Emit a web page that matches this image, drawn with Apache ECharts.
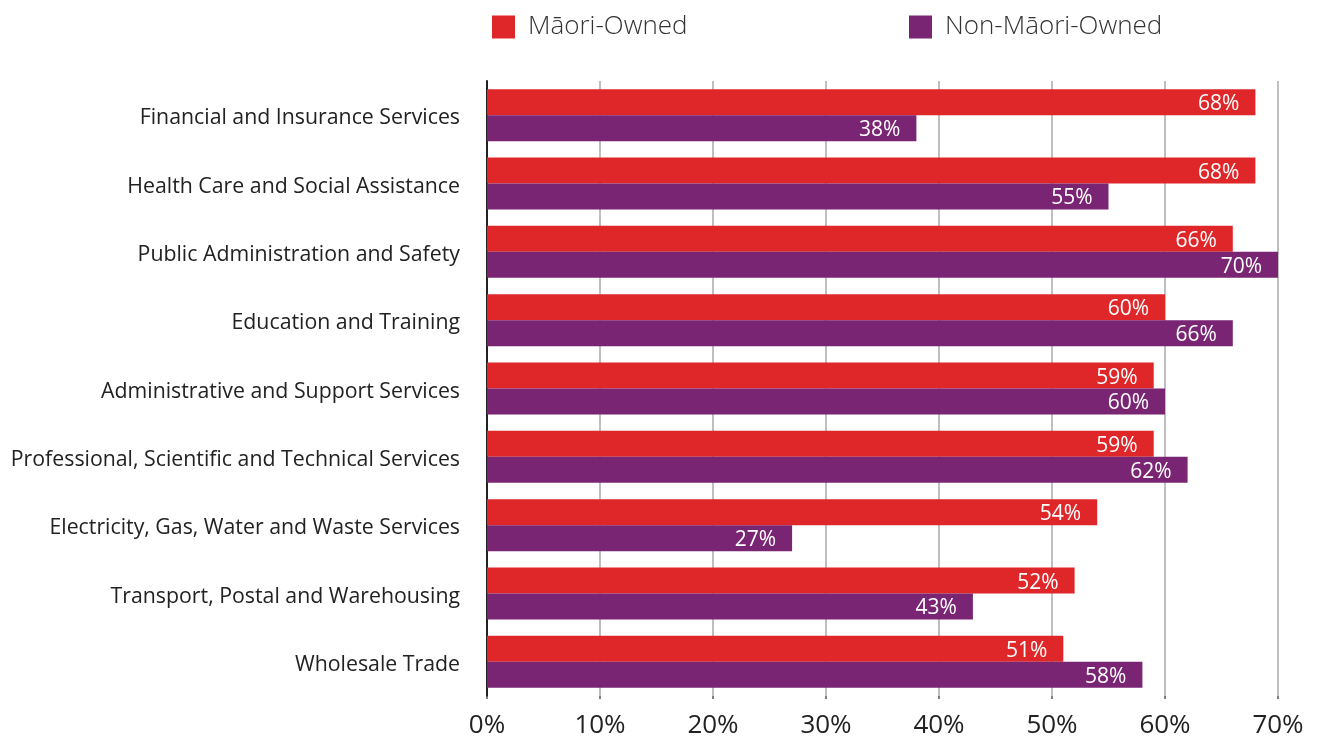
<!DOCTYPE html>
<html>
<head>
    <meta charset="utf-8">
    <title>ECharts</title>
    <script src="https://cdn.jsdelivr.net/npm/echarts@6/dist/echarts.min.js"></script>
</head>
<body style="margin:0">
<div id="main" style="width: 1322px;height:742px;"></div>
<script type="text/javascript">
    // data
    var industries = [
        'Financial and Insurance Services',
        'Health Care and Social Assistance',
        'Public Administration and Safety',
        'Education and Training',
        'Administrative and Support Services',
        'Professional, Scientific and Technical Services',
        'Electricity, Gas, Water and Waste Services',
        'Transport, Postal and Warehousing',
        'Wholesale Trade'
    ];
    var maoriOwned = [68, 68, 66, 60, 59, 59, 54, 52, 51];
    var nonMaoriOwned = [38, 55, 70, 66, 60, 62, 27, 43, 58];
    var seriesNames = ['Māori-Owned', 'Non-Māori-Owned'];

    var myChart = echarts.init(document.getElementById('main'));

    var barLabel = {
        show: true,
        position: 'insideRight',
        distance: 16,
        offset: [0, 2],
        formatter: '{c}%',
        color: '#fff',
        fontSize: 21,
        fontFamily: 'Open Sans'
    };
    var legendText = { fontSize: 26, color: '#333', fontFamily: 'Open Sans', fontWeight: 300, padding: [0, 0, 0, 8] };

    myChart.setOption({
        animation: false,
        legend: [
            { data: [seriesNames[0]], left: 487, top: 9, itemWidth: 23, itemHeight: 23, icon: 'rect', textStyle: legendText },
            { data: [seriesNames[1]], left: 904, top: 9, itemWidth: 23, itemHeight: 23, icon: 'rect', textStyle: legendText }
        ],
        grid: { left: 487, right: 44, top: 81, bottom: 46, containLabel: false },
        xAxis: {
            type: 'value',
            min: 0,
            max: 70,
            interval: 10,
            axisLine: { show: false },
            axisTick: { show: true, length: 3, lineStyle: { color: '#555', width: 1.5 } },
            splitLine: { show: true, lineStyle: { color: '#aaa', width: 1.5 } },
            axisLabel: { formatter: '{value}%', fontSize: 26, color: '#222', margin: 17, fontFamily: 'Open Sans' }
        },
        yAxis: {
            type: 'category',
            data: industries,
            inverse: true,
            axisLine: { show: true, lineStyle: { color: '#222', width: 2 } },
            axisTick: { show: false },
            axisLabel: {
                margin: 27,
                formatter: '{t|{value}}',
                rich: {
                    t: { fontSize: 21.3, color: '#222', fontFamily: 'Open Sans', padding: [6, 0, 0, 0] }
                }
            }
        },
        series: [
            {
                name: seriesNames[0],
                type: 'bar',
                data: maoriOwned,
                barGap: 0,
                barCategoryGap: '24%',
                itemStyle: { color: '#DF2629' },
                label: barLabel
            },
            {
                name: seriesNames[1],
                type: 'bar',
                data: nonMaoriOwned,
                barGap: 0,
                barCategoryGap: '24%',
                itemStyle: { color: '#7A2573' },
                label: barLabel
            }
        ]
    });
</script>
</body>
</html>
